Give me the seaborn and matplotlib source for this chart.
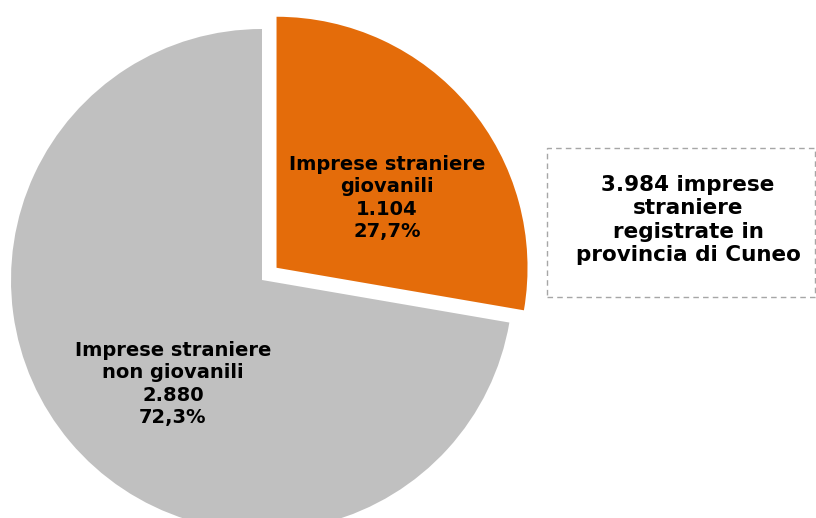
import numpy as np
import seaborn as sns
import matplotlib.pyplot as plt
from matplotlib.patches import Rectangle

# dati
categories = ['Imprese straniere giovanili', 'Imprese straniere non giovanili']
counts = [1104, 2880]
count_labels = ['1.104', '2.880']
pct_labels = ['27,7%', '72,3%']
slice_colors = ['#E46C0A', '#C0C0C0']
total_label = '3.984 imprese\nstraniere\nregistrate in\nprovincia di Cuneo'

sns.set_style('white')
plt.rcParams['font.family'] = ['DejaVu Sans']

fig = plt.figure(figsize=(8.16, 5.18), dpi=100)
ax = fig.add_axes([0, 0, 1, 1])

# explode in data units (pixels here)
wedges, _ = ax.pie(counts, colors=slice_colors, startangle=90, counterclock=False,
                   explode=[19, 0], center=(262, 238), radius=251,
                   wedgeprops=dict(linewidth=0), frame=True)
ax.set_xlim(0, 816)
ax.set_ylim(0, 518)
ax.set_aspect('equal')
ax.axis('off')

lab1 = 'Imprese straniere\ngiovanili\n' + count_labels[0] + '\n' + pct_labels[0]
lab2 = 'Imprese straniere\nnon giovanili\n' + count_labels[1] + '\n' + pct_labels[1]
ax.text(387, 518 - 198, lab1, ha='center', va='center', fontsize=14,
        fontweight='bold', linespacing=1.22, color='black')
ax.text(173, 518 - 384, lab2, ha='center', va='center', fontsize=14,
        fontweight='bold', linespacing=1.22, color='black')

box = Rectangle((547, 518 - 297), 268, 149, fill=False, edgecolor='#A6A6A6',
                linestyle=(0, (4, 3)), linewidth=1)
ax.add_patch(box)
ax.text(688, 518 - 220, total_label, ha='center', va='center', fontsize=15.5,
        fontweight='bold', linespacing=1.2, color='black')

plt.savefig('out.png', dpi=100)
